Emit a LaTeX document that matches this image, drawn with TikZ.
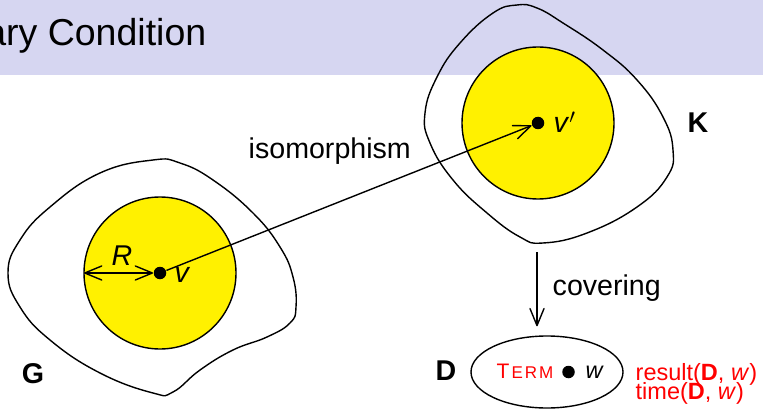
\documentclass[tikz,border=0pt]{standalone}
\usepackage{fontspec}
\setmainfont{Liberation Sans}
\usetikzlibrary{arrows.meta,shapes.geometric}
\definecolor{hdr}{RGB}{214,214,241}
\definecolor{yel}{RGB}{255,241,0}
\newcommand\fsz[1]{\fontsize{#1}{#1}\selectfont}
\begin{document}
\begin{tikzpicture}[x=1pt,y=-1pt,line width=1.4pt,
  >={Straight Barb[length=17pt,width=14pt,round]},
  dotn/.style={circle,fill=black,inner sep=0pt,minimum size=12.5pt},
  lbl/.style={inner sep=0pt,font=\fsz{28.6}},
  sml/.style={inner sep=0pt,font=\fsz{23.5}},
  ball/.style={draw,fill=yel}]
\useasboundingbox (0,0) rectangle (763,409);
\clip (0,0) rectangle (763,409);
\fill[hdr] (0,0) rectangle (763,75);
\node[anchor=base east,inner sep=0pt,font=\fsz{37.5}] (title) at (207,46) {ary Condition};
% G
\draw plot[smooth cycle,tension=0.75] coordinates {(153,160) (100,173) (50,207) (20,240) (8,273) (20,307) (50,340) (100,373) (153,393) (173,392) (200,370) (233,350) (267,337) (290,323) (296,307) (293,277) (280,247) (253,213) (213,180) (180,163)};
\draw[ball] (160,273) circle[radius=76pt];
% K
\draw plot[smooth cycle,tension=0.75] coordinates {(517,5) (493,13) (460,43) (437,77) (425,113) (430,143) (453,180) (487,213) (520,237) (543,243) (587,233) (637,207) (667,177) (673,150) (663,117) (637,80) (603,50) (563,23) (537,8)};
\draw[ball] (538,123) circle[radius=76pt];
% dots
\node[dotn] (v) at (160,273) {};
\node[dotn] (vp) at (538,123) {};
\coordinate (Rl) at (84,273);
\draw[<->] (Rl) -- (v);
\draw[->] (v) -- (vp);
\node[lbl,anchor=base] (R) at (122,265) {\textit{R}};
\node[lbl,anchor=base west] (vl) at (174,282) {\textit{v}};
\node[lbl,anchor=base west] (vpl) at (553,133) {\textit{v}$'$};
\node[lbl,anchor=base west] (iso) at (248,159) {isomorphism};
\node[lbl,anchor=base] (K) at (698,133) {\textbf{K}};
\node[lbl,anchor=base] (G) at (33,383) {\textbf{G}};
% D
\node[ellipse,draw,minimum width=152pt,minimum height=72pt,inner sep=0pt] (Dell) at (547,372) {};
\coordinate (Kb) at (537,252);
\draw[->,shorten >=9pt] (Kb) -- (Kb |- Dell.north);
\node[lbl,anchor=base west] (cov) at (552,295) {covering};
\node[lbl,anchor=base] (D) at (446,380) {\textbf{D}};
\node[inner sep=0pt,anchor=base west,text=red] (term) at (496,378) {\fsz{21}T\kern2pt\fsz{17}E\kern2pt R\kern2pt M};
\node[dotn] (wd) at (568.5,372) {};
\node[sml,anchor=base west] (w) at (585,378) {\textit{w}};
\node[sml,anchor=base west,text=red] (res) at (635,380) {result(\textbf{D}, \textit{w})};
\node[sml,anchor=base west,text=red] (time) at (635,399) {time(\textbf{D}, \textit{w})};
\end{tikzpicture}
\end{document}
